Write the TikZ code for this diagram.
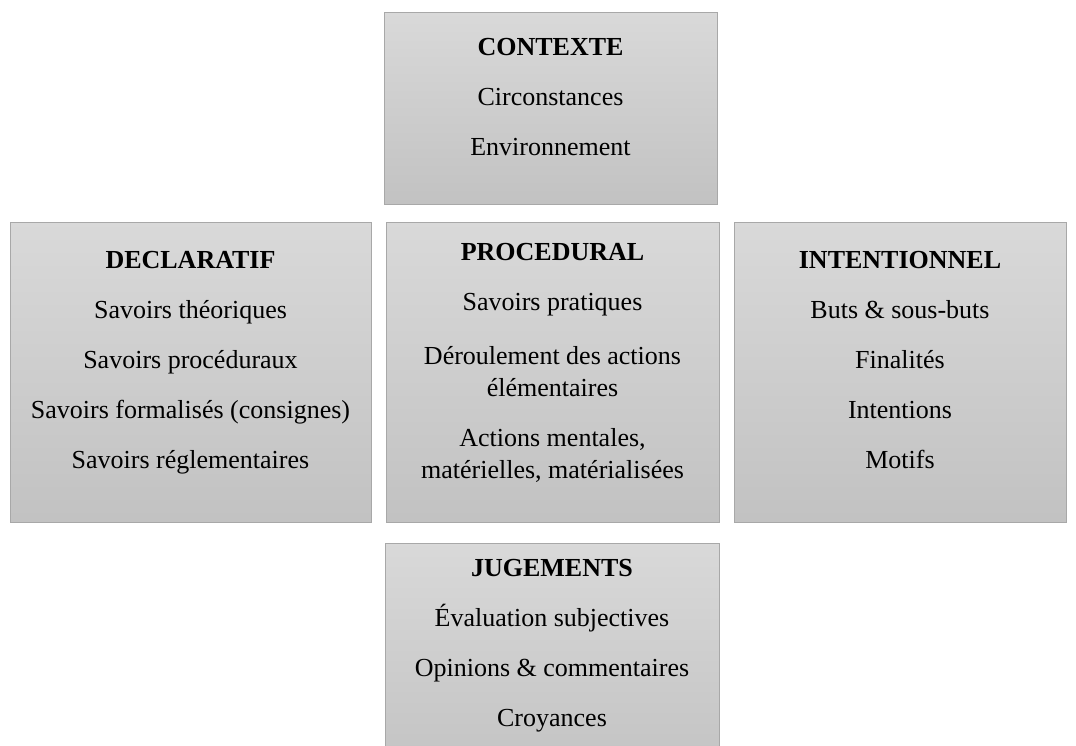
\documentclass[tikz,border=0pt]{standalone}
\usepackage{fontspec}
\setmainfont{Liberation Serif}
\begin{document}
\begin{tikzpicture}[x=1pt,y=-1pt]
\tikzset{
    box/.style={draw=black!34, line width=1pt, top color=black!15, bottom color=black!24, inner sep=0pt},
    txt/.style={align=center, inner sep=0pt, anchor=north, font=\fontsize{26}{32}\selectfont}}
\def\gap{18pt}

\useasboundingbox (0,0) rectangle (1076,746);
\clip (0,0) rectangle (1076,746);

\node[box, minimum width=333pt, minimum height=192pt] (contexte) at (550.5,109) {};
\node[box, minimum width=361pt, minimum height=299pt] (declaratif) at (190.5,372.5) {};
\node[box, minimum width=333pt, minimum height=299pt] (procedural) at (552.5,372.5) {};
\node[box, minimum width=332pt, minimum height=299pt] (intentionnel) at (900,372.5) {};
\node[box, minimum width=334pt, minimum height=240pt] (jugements) at (552,663) {};

\node[txt, yshift=-25.5pt] (contexte text) at (contexte.north)
    {\textbf{CONTEXTE}\\[\gap] Circonstances\\[\gap] Environnement};
\node[txt, yshift=-28.5pt] (declaratif text) at (declaratif.north)
    {\textbf{DECLARATIF}\\[\gap] Savoirs théoriques\\[\gap] Savoirs procéduraux\\[\gap]
     Savoirs formalisés (consignes)\\[\gap] Savoirs réglementaires};
\node[txt, yshift=-20.5pt] (procedural text) at (procedural.north)
    {\textbf{PROCEDURAL}\\[\gap] Savoirs pratiques\\[22pt] Déroulement des actions\\ élémentaires\\[\gap]
     Actions mentales,\\ matérielles, matérialisées};
\node[txt, yshift=-28.5pt] (intentionnel text) at (intentionnel.north)
    {\textbf{INTENTIONNEL}\\[\gap] Buts \& sous-buts\\[\gap] Finalités\\[\gap] Intentions\\[\gap] Motifs};
\node[txt, yshift=-16.5pt] (jugements text) at (jugements.north)
    {\textbf{JUGEMENTS}\\[\gap] Évaluation subjectives\\[\gap] Opinions \& commentaires\\[\gap] Croyances};

\end{tikzpicture}
\end{document}
